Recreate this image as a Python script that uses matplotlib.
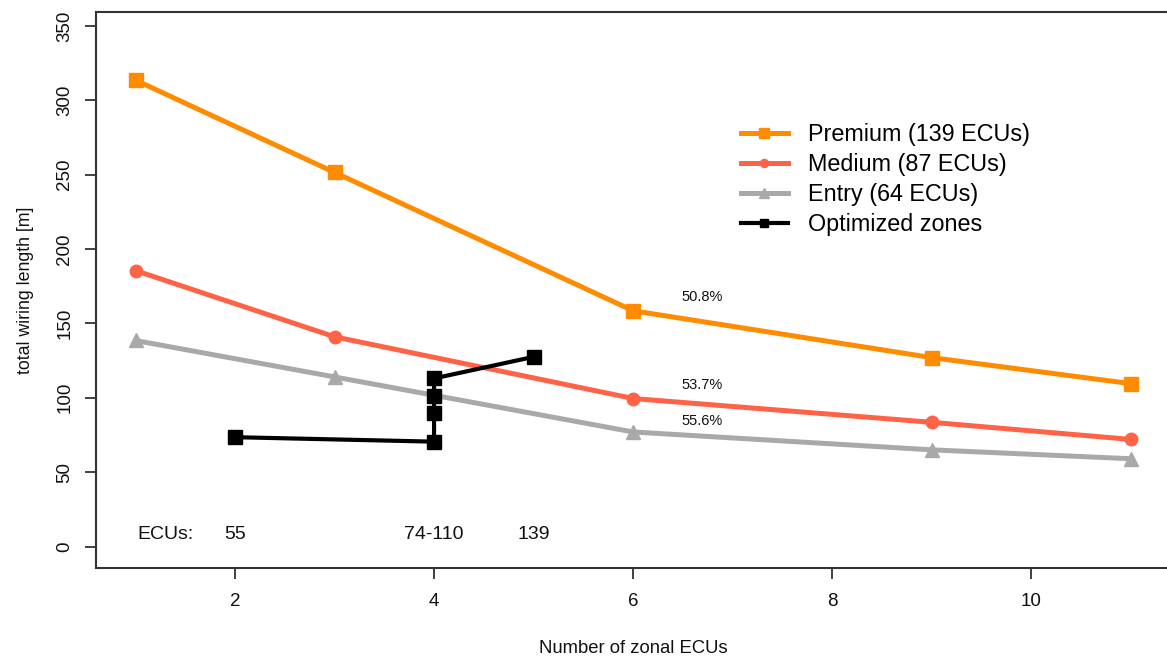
import matplotlib
matplotlib.use('Agg')
import matplotlib.pyplot as plt

plt.rcParams['font.family'] = ['Liberation Sans', 'DejaVu Sans']

# Data.
zones = [1, 3, 6, 9, 11]
premium = [313.5, 251.5, 158.5, 127, 109.5]
medium = [185.5, 141, 99.5, 83.5, 72]
entry = [138.5, 114, 77, 65, 59]

opt_zones = [2, 4, 4, 4, 4, 5]
opt_length = [73.5, 70.5, 90, 101, 113, 127.5]

ecu_label_x = [1.3, 2, 4, 5]
ecu_labels = ['ECUs:', '55', '74-110', '139']

pct_labels = ['50.8%', '53.7%', '55.6%']
pct_y = [168, 108.5, 84.5]

series_names = ['Premium (139 ECUs)', 'Medium (87 ECUs)', 'Entry (64 ECUs)',
                'Optimized zones']

fig = plt.figure(figsize=(11.67, 6.57), dpi=100)
ax = fig.add_axes([0.082, 0.136, 0.921, 0.845])

ax.plot(zones, premium, color='#FF8C00', lw=3.6, marker='s', ms=10,
        label=series_names[0])
ax.plot(zones, medium, color='#FF6347', lw=3.6, marker='o', ms=9,
        label=series_names[1])
ax.plot(zones, entry, color='#A9A9A9', lw=3.6, marker='^', ms=10,
        label=series_names[2])
ax.plot(opt_zones, opt_length, color='black', lw=3.0, marker='s', ms=9.5,
        label=series_names[3])

# Labels under the curves.
for x, txt in zip(ecu_label_x, ecu_labels):
    ax.text(x, 8, txt, ha='center', va='center', fontsize=14,
            color='#111111')
for y, txt in zip(pct_y, pct_labels):
    ax.text(6.69, y, txt, ha='center', va='center', fontsize=10.5,
            color='#111111')

ax.set_xlim(0.6, 11.4)
ax.set_ylim(-14.2, 359)
ax.set_xticks([2, 4, 6, 8, 10])
ax.set_yticks([0, 50, 100, 150, 200, 250, 300, 350])
ax.set_yticklabels(['0', '50', '100', '150', '200', '250', '300', '350'],
                   rotation=90, va='center')
ax.tick_params(direction='out', length=8, width=1.3, colors='#333333',
               labelsize=13.5, labelcolor='#111111', pad=10)
ax.tick_params(axis='y', pad=8)
for s in ax.spines.values():
    s.set_color('#333333')
    s.set_linewidth(1.5)

ax.set_xlabel('Number of zonal ECUs', fontsize=13.3, labelpad=22,
              color='#111111')
ax.set_ylabel('total wiring length [m]', fontsize=12.8, labelpad=16,
              color='#111111')

leg = ax.legend(loc='upper left', bbox_to_anchor=(0.581, 0.839),
                frameon=False, fontsize=16.8, handlelength=2.0,
                handletextpad=0.85, labelspacing=0.3, markerscale=0.65)

fig.savefig('out.png', dpi=100)
